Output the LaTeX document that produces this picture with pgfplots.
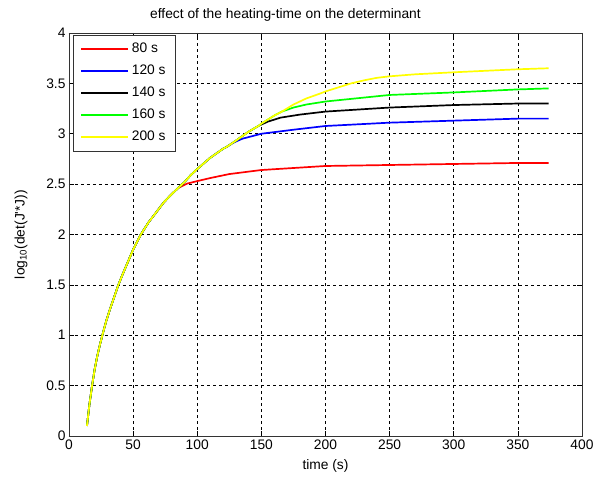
\documentclass[border=0pt]{standalone}
\usepackage{fontspec}
\setmainfont{Liberation Sans}
\usepackage{pgfplots}
\pgfplotsset{compat=1.18}
\definecolor{mgreen}{RGB}{0,255,0}
\definecolor{myellow}{RGB}{255,255,0}
\begin{document}
\begin{tikzpicture}
\begin{axis}[name=a, scale only axis, width=513bp, height=403bp,
  xmin=0, xmax=400, ymin=0, ymax=4,
  xtick={0,50,100,150,200,250,300,350,400},
  ytick={0,0.5,1,1.5,2,2.5,3,3.5,4},
  font=\fontsize{13.8bp}{16bp}\selectfont,
  /pgf/number format/assume math mode=true,
  tick align=inside, major tick length=5bp,
  tick style={black, line width=0.6bp},
  axis line style={line width=0.8bp, black!80},
  grid=major, grid style={black, line width=0.6bp, dash pattern=on 3bp off 3bp},
  title={effect of the heating-time on the determinant},
  title style={yshift=2bp, xshift=-40bp},
  xlabel={time (s)}, ylabel={log\textsubscript{10}(det(J\textquotesingle*J))},
  xlabel style={yshift=-3bp}, ylabel style={yshift=12bp},
  legend cell align=left,
  legend style={at={(0,1)}, anchor=north west, xshift=4bp, yshift=-2bp,
    draw=black!80, line width=0.8bp, inner xsep=7bp, inner ysep=5bp, row sep=4bp,
    nodes={inner sep=2.5bp, text height=10bp, text depth=3bp}},
  legend image code/.code={\draw[#1, line width=2bp] (0bp,0bp) -- (47bp,0bp);},
  every axis plot/.append style={line width=1.7bp},
]
\addplot[draw=red] coordinates {
(14,0.1)(16,0.32)(18,0.5)(20,0.66)(22,0.79)(24,0.9)(26,1.0)(29,1.14)(32,1.26)(35,1.37)
(38.5,1.5)(42,1.61)(46,1.73)(50,1.85)(56,2.0)(62,2.12)(68,2.22)(74,2.32)(80,2.4)(85,2.46)
(88,2.48)(92,2.505)(100,2.53)(110,2.56)(125,2.6)(150,2.64)(175,2.66)(200,2.68)(250,2.69)
(300,2.70)(350,2.71)(374,2.71)};
\addplot[draw=blue] coordinates {
(14,0.1)(16,0.32)(18,0.5)(20,0.66)(22,0.79)(24,0.9)(26,1.0)(29,1.14)(32,1.26)(35,1.37)
(38.5,1.5)(42,1.61)(46,1.73)(50,1.85)(56,2.0)(62,2.12)(68,2.22)(74,2.32)(80,2.4)(85,2.46)
(90,2.52)(95,2.59)(100,2.65)(110,2.76)(120,2.85)(123,2.87)(128,2.91)(135,2.95)(150,3.0)
(175,3.04)(200,3.077)(250,3.11)(300,3.13)(350,3.15)(374,3.15)};
\addplot[draw=black] coordinates {
(14,0.1)(16,0.32)(18,0.5)(20,0.66)(22,0.79)(24,0.9)(26,1.0)(29,1.14)(32,1.26)(35,1.37)
(38.5,1.5)(42,1.61)(46,1.73)(50,1.85)(56,2.0)(62,2.12)(68,2.22)(74,2.32)(80,2.4)(85,2.46)
(90,2.52)(95,2.59)(100,2.65)(110,2.76)(120,2.85)(123,2.87)(130,2.93)(140,3.02)(148,3.08)
(155,3.12)(165,3.16)(180,3.19)(200,3.22)(250,3.26)(300,3.285)(350,3.30)(374,3.30)};
\addplot[draw=mgreen] coordinates {
(14,0.1)(16,0.32)(18,0.5)(20,0.66)(22,0.79)(24,0.9)(26,1.0)(29,1.14)(32,1.26)(35,1.37)
(38.5,1.5)(42,1.61)(46,1.73)(50,1.85)(56,2.0)(62,2.12)(68,2.22)(74,2.32)(80,2.4)(85,2.46)
(90,2.52)(95,2.59)(100,2.65)(110,2.76)(120,2.85)(123,2.87)(130,2.93)(140,3.02)(148,3.08)
(150,3.10)(160,3.18)(166,3.22)(175,3.26)(185,3.29)(200,3.32)(250,3.385)(300,3.41)
(350,3.44)(374,3.45)};
\addplot[draw=myellow] coordinates {
(14,0.1)(16,0.32)(18,0.5)(20,0.66)(22,0.79)(24,0.9)(26,1.0)(29,1.14)(32,1.26)(35,1.37)
(38.5,1.5)(42,1.61)(46,1.73)(50,1.85)(56,2.0)(62,2.12)(68,2.22)(74,2.32)(80,2.4)(85,2.46)
(90,2.52)(95,2.59)(100,2.65)(110,2.76)(120,2.85)(123,2.87)(130,2.93)(140,3.02)(148,3.08)
(150,3.10)(160,3.18)(166,3.22)(175,3.29)(185,3.35)(196,3.40)(200,3.42)(210,3.46)(220,3.50)
(230,3.53)(240,3.555)(250,3.57)(270,3.59)(300,3.61)(325,3.625)(350,3.64)(374,3.65)};
\legend{80 s,120 s,140 s,160 s,200 s}
\end{axis}
\pgfresetboundingbox
\path ([xshift=-69bp,yshift=-41bp]a.south west) rectangle ([xshift=13bp,yshift=33bp]a.north east);
\end{tikzpicture}
\end{document}
